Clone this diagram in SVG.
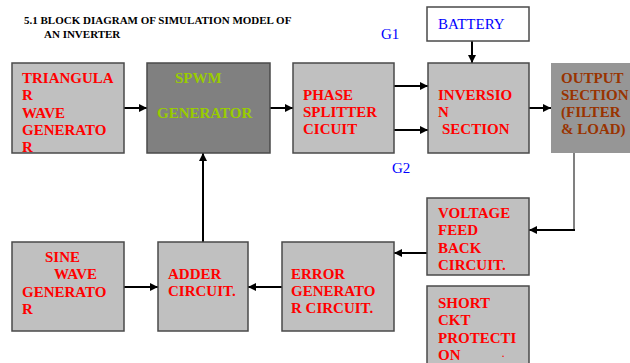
<svg xmlns="http://www.w3.org/2000/svg" width="630" height="363" viewBox="0 0 630 363">
<defs>
<marker id="ah" viewBox="0 0 10 10" refX="10" refY="5" markerWidth="4" markerHeight="4" orient="auto" markerUnits="strokeWidth">
<path d="M0,0 L10,5 L0,10 z" fill="#000"/>
</marker>
<style>
.box{fill:#c0c0c0;stroke:#4a4a4a;stroke-width:1.5}
.lbl{font-family:"Liberation Serif","Times New Roman",serif;font-weight:bold;font-size:15px;fill:#ff0000}
.conn{stroke:#000;stroke-width:2;fill:none;marker-end:url(#ah)}
.blue{font-family:"Liberation Serif","Times New Roman",serif;font-size:15px;fill:#0000ff}
</style>
</defs>
<rect width="630" height="363" fill="#fff"/>
<g id="title" font-family="Liberation Serif, Times New Roman, serif" font-weight="bold" font-size="11" fill="#000">
<text x="24" y="24">5.1 BLOCK DIAGRAM OF SIMULATION MODEL OF</text>
<text x="44" y="38">AN INVERTER</text>
</g>
<g id="labels">
<text class="blue" x="381" y="39" font-size="14">G1</text>
<text class="blue" x="392" y="173" font-size="14">G2</text>
</g>
<g id="connectors">
<line class="conn" x1="124" y1="108" x2="147" y2="108"/>
<line class="conn" x1="270" y1="108" x2="293" y2="108"/>
<line class="conn" x1="394" y1="86" x2="428" y2="86"/>
<line class="conn" x1="394" y1="130" x2="428" y2="130"/>
<line class="conn" x1="472" y1="41" x2="472" y2="63"/>
<line class="conn" x1="529" y1="108" x2="551" y2="108"/>
<polyline points="574,153 574,230" stroke="#808080" stroke-width="2" fill="none"/>
<line class="conn" x1="575" y1="230" x2="529" y2="230"/>
<line class="conn" x1="427" y1="253" x2="394" y2="253"/>
<line class="conn" x1="282" y1="287" x2="248" y2="287"/>
<line class="conn" x1="124" y1="287" x2="158" y2="287"/>
<line class="conn" x1="203" y1="242" x2="203" y2="153"/>
</g>
<g id="battery">
<rect x="427" y="7" width="102" height="34" fill="#fff" stroke="#4a4a4a" stroke-width="1.5"/>
<text class="blue" x="438" y="29">BATTERY</text>
</g>
<g id="triangular">
<rect class="box" x="12" y="63" width="112" height="90"/>
<text class="lbl" x="22" y="83">TRIANGULA</text>
<text class="lbl" x="22" y="100">R</text>
<text class="lbl" x="22" y="118">WAVE</text>
<text class="lbl" x="22" y="135">GENERATO</text>
<text class="lbl" x="22" y="152">R</text>
</g>
<g id="spwm">
<rect x="147" y="63" width="123" height="90" fill="#808080" stroke="#4a4a4a" stroke-width="1.5"/>
<text class="lbl" x="175" y="83" style="fill:#99cc00">SPWM</text>
<text class="lbl" x="157" y="118" style="fill:#99cc00">GENERATOR</text>
</g>
<g id="phase">
<rect class="box" x="293" y="63" width="101" height="90"/>
<text class="lbl" x="303" y="100">PHASE</text>
<text class="lbl" x="303" y="117">SPLITTER</text>
<text class="lbl" x="303" y="134">CICUIT</text>
</g>
<g id="inversion">
<rect class="box" x="428" y="63" width="101" height="90"/>
<text class="lbl" x="438" y="100">INVERSIO</text>
<text class="lbl" x="438" y="117">N</text>
<text class="lbl" x="442" y="134">SECTION</text>
</g>
<g id="output">
<rect x="551" y="63" width="85" height="90" fill="#969696"/>
<text class="lbl" x="561" y="83" style="fill:#993300">OUTPUT</text>
<text class="lbl" x="561" y="100" style="fill:#993300">SECTION</text>
<text class="lbl" x="561" y="117" style="fill:#993300">(FILTER</text>
<text class="lbl" x="561" y="134" style="fill:#993300">&amp; LOAD)</text>
</g>
<g id="voltage">
<rect class="box" x="427" y="198" width="102" height="77"/>
<text class="lbl" x="438" y="218">VOLTAGE</text>
<text class="lbl" x="438" y="235">FEED</text>
<text class="lbl" x="438" y="253">BACK</text>
<text class="lbl" x="438" y="270">CIRCUIT.</text>
</g>
<g id="short">
<rect class="box" x="427" y="286" width="102" height="85"/>
<text class="lbl" x="438" y="308">SHORT</text>
<text class="lbl" x="438" y="325">CKT</text>
<text class="lbl" x="438" y="343">PROTECTI</text>
<text class="lbl" x="438" y="360">ON</text>
<text class="lbl" x="502" y="357" style="font-size:9px">.</text>
</g>
<g id="sine">
<rect class="box" x="12" y="242" width="112" height="89"/>
<text class="lbl" x="45" y="262">SINE</text>
<text class="lbl" x="54" y="279">WAVE</text>
<text class="lbl" x="22" y="297">GENERATO</text>
<text class="lbl" x="22" y="314">R</text>
</g>
<g id="adder">
<rect class="box" x="158" y="242" width="90" height="89"/>
<text class="lbl" x="168" y="279">ADDER</text>
<text class="lbl" x="168" y="296">CIRCUIT.</text>
</g>
<g id="error">
<rect class="box" x="282" y="242" width="112" height="89"/>
<text class="lbl" x="291" y="279">ERROR</text>
<text class="lbl" x="291" y="296">GENERATO</text>
<text class="lbl" x="291" y="313">R CIRCUIT.</text>
</g>
</svg>
